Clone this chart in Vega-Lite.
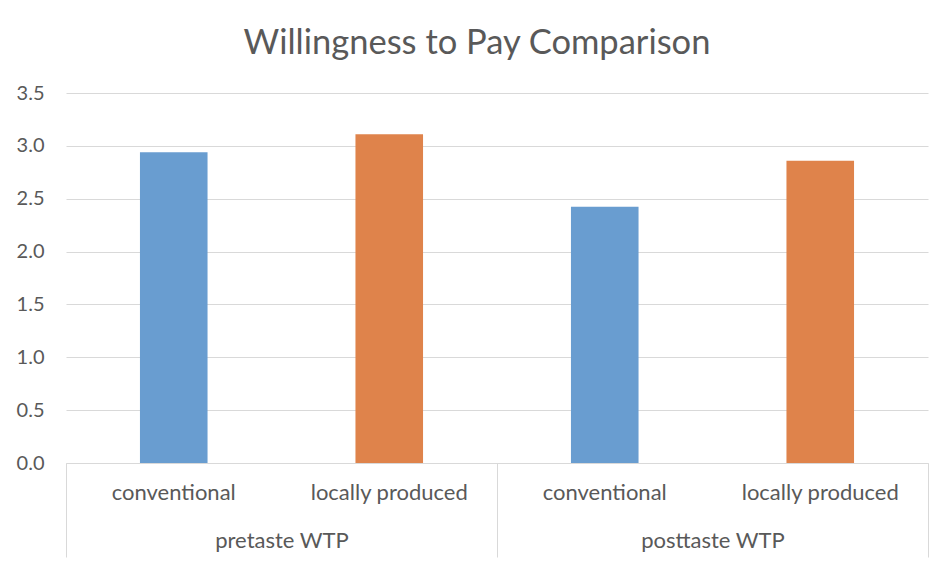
{
  "$schema": "https://vega.github.io/schema/vega-lite/v6.json",
  "width": 862,
  "height": 370,
  "autosize": {"type": "none"},
  "padding": {"left": 66, "top": 93, "right": 20, "bottom": 106},
  "background": "white",
  "config": {
    "font": "Lato",
    "view": {"stroke": null},
    "axis": {"labelFont": "Lato", "labelColor": "#595959", "labelFontSize": 22}
  },
  "title": {
    "text": "Willingness to Pay Comparison",
    "font": "Lato",
    "fontSize": 34.5,
    "fontWeight": "normal",
    "color": "#595959",
    "anchor": "middle",
    "frame": "group",
    "baseline": "alphabetic",
    "dx": -20,
    "dy": 306,
    "offset": 41
  },
  "data": {
    "values": [
      {"group": "pretaste WTP", "product": "conventional", "key": "pretaste WTP|conventional", "wtp": 2.94},
      {"group": "pretaste WTP", "product": "locally produced", "key": "pretaste WTP|locally produced", "wtp": 3.11},
      {"group": "posttaste WTP", "product": "conventional", "key": "posttaste WTP|conventional", "wtp": 2.425},
      {"group": "posttaste WTP", "product": "locally produced", "key": "posttaste WTP|locally produced", "wtp": 2.86}
    ]
  },
  "layer": [
    {
      "mark": {"type": "bar", "width": {"band": 0.3136}},
      "encoding": {
        "x": {
          "field": "key",
          "type": "nominal",
          "sort": ["pretaste WTP|conventional", "pretaste WTP|locally produced", "posttaste WTP|conventional", "posttaste WTP|locally produced"],
          "scale": {"paddingInner": 0, "paddingOuter": 0},
          "axis": {
            "title": null,
            "labelExpr": "split(datum.label, '|')[1]",
            "labelAngle": 0,
            "ticks": false,
            "tickSize": 0,
            "labelPadding": 19,
            "domainColor": "#d9d9d9",
            "domainWidth": 1,
            "grid": false
          }
        },
        "y": {
          "field": "wtp",
          "type": "quantitative",
          "scale": {"domain": [0, 3.5], "nice": false},
          "axis": {
            "title": null,
            "values": [0, 0.5, 1, 1.5, 2, 2.5, 3, 3.5],
            "format": ".1f",
            "domain": false,
            "ticks": false,
            "labelFontSize": 20,
            "labelPadding": 22,
            "gridColor": "#d9d9d9",
            "gridWidth": 1
          }
        },
        "color": {
          "field": "product",
          "type": "nominal",
          "scale": {"domain": ["conventional", "locally produced"], "range": ["#699dd0", "#df834b"]},
          "legend": null
        }
      }
    },
    {
      "mark": {"type": "bar", "opacity": 0},
      "encoding": {
        "x": {
          "field": "group",
          "type": "nominal",
          "sort": ["pretaste WTP", "posttaste WTP"],
          "scale": {"paddingInner": 0, "paddingOuter": 0},
          "axis": {
            "title": null,
            "orient": "bottom",
            "labelAngle": 0,
            "domain": false,
            "ticks": true,
            "tickBand": "extent",
            "tickSize": 94,
            "tickColor": "#d9d9d9",
            "labelPadding": -27,
            "grid": false
          }
        },
        "y": {"field": "wtp", "type": "quantitative"}
      }
    }
  ],
  "resolve": {"scale": {"x": "independent"}, "axis": {"x": "independent"}}
}
